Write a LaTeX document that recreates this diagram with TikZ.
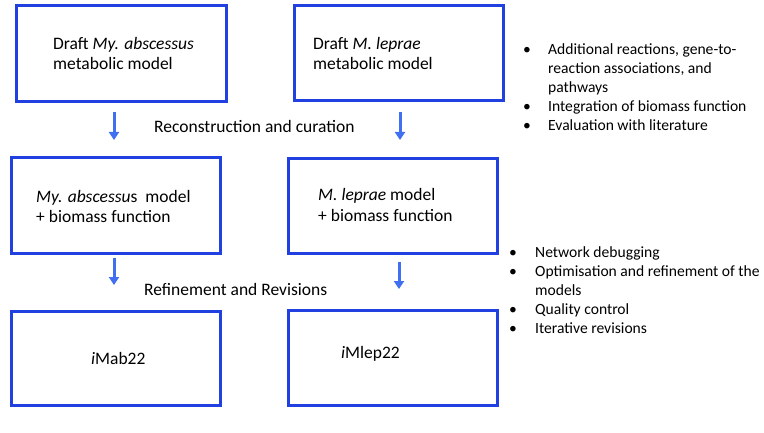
\documentclass[tikz,border=0pt]{standalone}
\usepackage{fontspec}
\setmainfont{Carlito}
\usetikzlibrary{arrows.meta}
\definecolor{boxblue}{RGB}{32,64,224}
\definecolor{arrowblue}{RGB}{64,112,240}
\begin{document}
\begin{tikzpicture}[x=1pt,y=-1pt,
  box/.style={draw=boxblue,line width=3pt,inner sep=0pt,minimum width=209pt,minimum height=95pt},
  arr/.style={draw=arrowblue,line width=3pt,-{Triangle[width=10pt,length=8pt]}},
  maintext/.style={font=\fontsize{17.5}{21}\selectfont,anchor=base west,inner sep=0pt},
  bultext/.style={font=\fontsize{15.6}{19}\selectfont,anchor=base west,inner sep=0pt},
  bul/.style={font=\fontsize{15.6}{19}\selectfont,anchor=base,inner sep=0pt}]
\useasboundingbox[fill=white] (0,0) rectangle (764,433);
% boxes
\node[box,minimum width=210pt,minimum height=96pt] (b1) at (121.5,53.5) {};
\node[box] (b2) at (399,53) {};
\node[box,minimum height=96pt] (b3) at (116,205.5) {};
\node[box] (b4) at (393,206) {};
\node[box,minimum height=94pt] (b5) at (116,358.5) {};
\node[box] (b6) at (393,358) {};
% box texts
\node[maintext] (t1a) at (53,50) {Draft \textit{My. abscessus}};
\node[maintext] (t1b) at (53,70) {metabolic model};
\node[maintext] (t2a) at (313,50) {Draft \textit{M. leprae}};
\node[maintext] (t2b) at (313,70) {metabolic model};
\node[maintext] (t3a) at (36,203) {\textit{My. abscessu}s~ model};
\node[maintext] (t3b) at (36,223) {+ biomass function};
\node[maintext] (t4a) at (318,201) {\textit{M. leprae} model};
\node[maintext] (t4b) at (318,222) {+ biomass function};
\node[maintext] (t5) at (91,364) {\textit{i}Mab22};
\node[maintext] (t6) at (341,358) {\textit{i}Mlep22};
% stage labels
\node[maintext] (h1) at (154,133) {Reconstruction and curation};
\node[maintext] (h2) at (144,295) {Refinement and Revisions};
% arrows
\coordinate (a1s) at (114,112); \coordinate (a1e) at (114,140);
\coordinate (a2s) at (400,112); \coordinate (a2e) at (400,140);
\coordinate (a3s) at (114,258); \coordinate (a3e) at (114,285);
\coordinate (a4s) at (399,262); \coordinate (a4e) at (399,289);
\draw[arr] (a1s) -- (a1e);
\draw[arr] (a2s) -- (a2e);
\draw[arr] (a3s) -- (a3e);
\draw[arr] (a4s) -- (a4e);
% bullet list 1
\node[bul] (p1) at (527,54.5) {•};
\node[bultext] (l1a) at (548,54.5) {Additional reactions, gene-to-};
\node[bultext] (l1b) at (548,73.5) {reaction associations, and};
\node[bultext] (l1c) at (548,92.5) {pathways};
\node[bul] (p2) at (527,111.5) {•};
\node[bultext] (l2) at (548,111.5) {Integration of biomass function};
\node[bul] (p3) at (527,130.5) {•};
\node[bultext] (l3) at (548,130.5) {Evaluation with literature};
% bullet list 2
\node[bul] (q1) at (513,257.5) {•};
\node[bultext] (m1) at (535,257.5) {Network debugging};
\node[bul] (q2) at (513,276.5) {•};
\node[bultext] (m2a) at (535,276.5) {Optimisation and refinement of the};
\node[bultext] (m2b) at (535,295.5) {models};
\node[bul] (q3) at (513,314.5) {•};
\node[bultext] (m3) at (535,314.5) {Quality control};
\node[bul] (q4) at (513,333.5) {•};
\node[bultext] (m4) at (535,333.5) {Iterative revisions};
\end{tikzpicture}
\end{document}
